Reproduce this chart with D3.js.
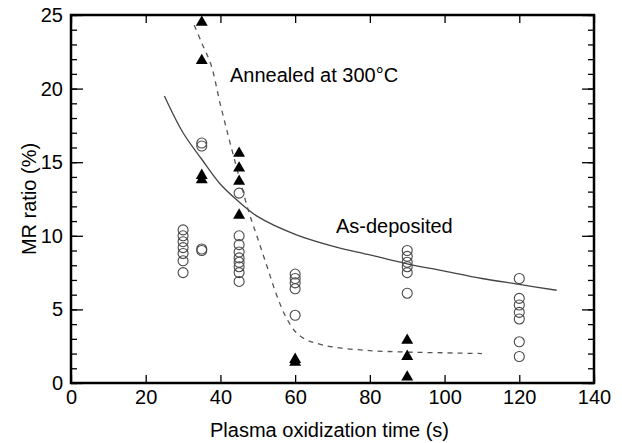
<!DOCTYPE html>
<html>
<head>
<meta charset="utf-8">
<script src="https://cdn.jsdelivr.net/npm/d3@7"></script>
<style>
  html, body { margin: 0; padding: 0; background: #fff; }
  svg { display: block; font-family: "Liberation Sans", Arial, sans-serif; }
</style>
</head>
<body>
<div id="chart"></div>
<script>
// MR ratio vs plasma oxidization time, as-deposited (circles) and annealed (triangles).

const xTicks = [0, 20, 40, 60, 80, 100, 120, 140];
const yTicks = [0, 5, 10, 15, 20, 25];

// open circles, one entry per oxidization time
const asDeposited = [
  { t: 30,  mr: [10.4, 10.0, 9.6, 9.2, 8.8, 8.3, 7.5] },
  { t: 35,  mr: [16.3, 16.1, 9.1, 9.0] },
  { t: 45,  mr: [12.9, 10.0, 9.4, 8.9, 8.5, 8.2, 7.9, 7.5, 6.9] },
  { t: 60,  mr: [7.4, 7.1, 6.8, 6.4, 4.6] },
  { t: 90,  mr: [9.0, 8.6, 8.2, 7.9, 7.5, 6.1] },
  { t: 120, mr: [7.1, 5.75, 5.3, 4.8, 4.35, 2.8, 1.8] }
];

// filled triangles
const annealed = [
  { t: 35, mr: [24.5, 21.9, 14.1, 13.8] },
  { t: 45, mr: [15.6, 14.6, 13.7, 11.4] },
  { t: 60, mr: [1.6, 1.4] },
  { t: 90, mr: [2.9, 1.8, 0.4] }
];

// guide curves
const asDepCurve = [[25, 19.5], [30, 17.0], [35, 15.2], [40, 13.5], [45, 12.3], [50, 11.3],
  [60, 10.1], [70, 9.3], [80, 8.7], [90, 8.1], [100, 7.6], [110, 7.1], [120, 6.7], [130, 6.3]];
const annealCurve = [[33, 24.3], [35, 23.1], [37.5, 21.6], [40, 18.9], [42.5, 16.4], [45, 14.0],
  [47.5, 11.7], [50, 9.8], [52.5, 7.9], [55, 6.0], [57.5, 4.5], [60, 3.5], [62.5, 3.0],
  [65, 2.75], [70, 2.45], [80, 2.2], [90, 2.1], [100, 2.05], [110, 2.0]];

const W = 622, H = 443;
const plotL = 71, plotR = 594, plotT = 15, plotB = 383;

const svg = d3.select('#chart').append('svg')
  .attr('width', W).attr('height', H);

const x = d3.scaleLinear().domain([0, 140]).range([plotL, plotR]);
const y = d3.scaleLinear().domain([0, 25]).range([plotB, plotT]);

const flat = data => data.flatMap(d => d.mr.map(v => [d.t, v]));

// curves
const line = d3.line().x(d => x(d[0])).y(d => y(d[1])).curve(d3.curveCatmullRom);

svg.append('path')
  .attr('d', line(asDepCurve))
  .attr('fill', 'none')
  .attr('stroke', '#444')
  .attr('stroke-width', 1.3);

svg.append('path')
  .attr('d', line(annealCurve))
  .attr('fill', 'none')
  .attr('stroke', '#555')
  .attr('stroke-width', 1.3)
  .attr('stroke-dasharray', '5 5');

// markers
svg.append('g').selectAll('circle')
  .data(flat(asDeposited))
  .join('circle')
  .attr('cx', d => x(d[0]))
  .attr('cy', d => y(d[1]))
  .attr('r', 5)
  .attr('fill', 'none')
  .attr('stroke', '#4a4a4a')
  .attr('stroke-width', 1.1);

const tri = d3.symbol().type(d3.symbolTriangle).size(62);
svg.append('g').selectAll('path')
  .data(flat(annealed))
  .join('path')
  .attr('transform', d => `translate(${x(d[0])},${y(d[1])})`)
  .attr('d', tri)
  .attr('fill', '#000');

// axes: ticks point inward on all four sides
const fontSize = '20px';
const styleAxis = g => {
  g.select('.domain').remove();
  g.selectAll('line').attr('stroke', '#000').attr('stroke-width', 1.3);
  g.selectAll('text').style('font-size', fontSize).attr('fill', '#000');
};

const yMinor = d3.range(0, 26, 1);

svg.append('g')
  .attr('transform', `translate(0,${plotB})`)
  .call(d3.axisBottom(x).tickValues(xTicks).tickSizeInner(-8).tickSizeOuter(0).tickPadding(7))
  .call(styleAxis);

svg.append('g')
  .attr('transform', `translate(0,${plotT})`)
  .call(d3.axisTop(x).tickValues(xTicks).tickSizeInner(-8).tickSizeOuter(0).tickFormat(''))
  .call(styleAxis);

svg.append('g')
  .attr('transform', `translate(${plotL},0)`)
  .call(d3.axisLeft(y).tickValues(yMinor).tickSizeInner(-6).tickSizeOuter(0).tickFormat(''))
  .call(styleAxis);
svg.append('g')
  .attr('transform', `translate(${plotL},0)`)
  .call(d3.axisLeft(y).tickValues(yTicks).tickSizeInner(-12).tickSizeOuter(0).tickPadding(8))
  .call(styleAxis);

svg.append('g')
  .attr('transform', `translate(${plotR},0)`)
  .call(d3.axisRight(y).tickValues(yMinor).tickSizeInner(-6).tickSizeOuter(0).tickFormat(''))
  .call(styleAxis);
svg.append('g')
  .attr('transform', `translate(${plotR},0)`)
  .call(d3.axisRight(y).tickValues(yTicks).tickSizeInner(-12).tickSizeOuter(0).tickFormat(''))
  .call(styleAxis);

// frame
svg.append('rect')
  .attr('x', plotL).attr('y', plotT)
  .attr('width', plotR - plotL).attr('height', plotB - plotT)
  .attr('fill', 'none')
  .attr('stroke', '#000')
  .attr('stroke-width', 2.5);

// titles and annotations
svg.append('text')
  .attr('x', (plotL + plotR) / 2 - 3).attr('y', 437)
  .attr('text-anchor', 'middle')
  .style('font-size', '20px')
  .text('Plasma oxidization time (s)');

svg.append('text')
  .attr('transform', `translate(36,${(plotT + plotB) / 2}) rotate(-90)`)
  .attr('text-anchor', 'middle')
  .style('font-size', '20px')
  .text('MR ratio (%)');

svg.append('text')
  .attr('x', 230).attr('y', 82)
  .style('font-size', '20px')
  .text('Annealed at 300°C');

svg.append('text')
  .attr('x', 336).attr('y', 233)
  .style('font-size', '20px')
  .text('As-deposited');
</script>
</body>
</html>
